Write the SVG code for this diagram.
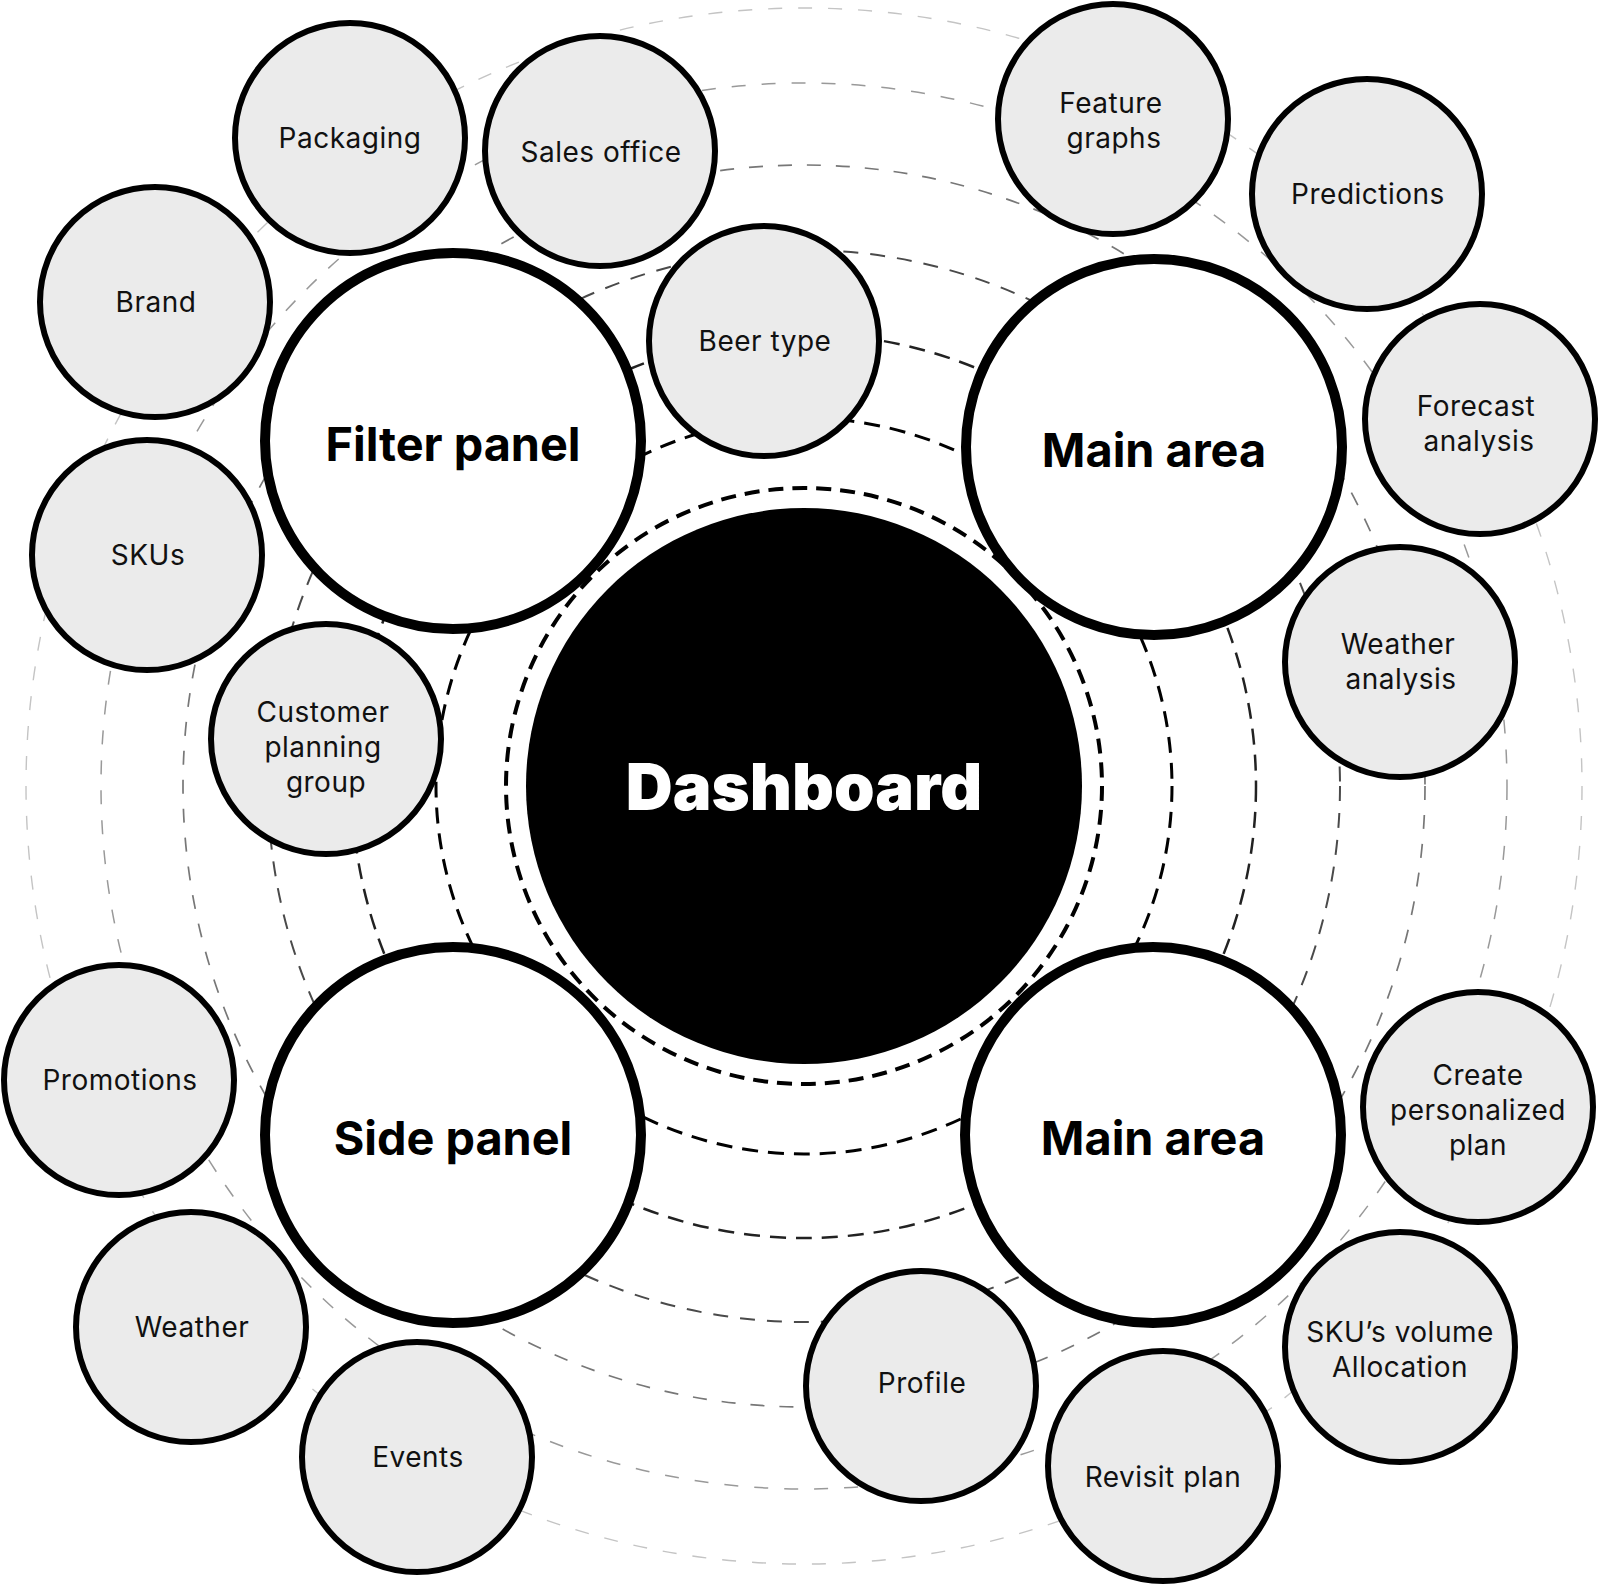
<svg xmlns="http://www.w3.org/2000/svg" width="1600" height="1586" viewBox="0 0 1600 1586">
<style>
.ring{fill:none}
.small circle{fill:#ebebeb;stroke:#000;stroke-width:6}
.big circle{fill:#fff;stroke:#000;stroke-width:10}
.st{font-family:Inter,"Noto Sans","Liberation Sans",sans-serif;font-size:28px;letter-spacing:0.5px;fill:#111;text-anchor:middle}
.bt{font-family:Inter,"Noto Sans","Liberation Sans",sans-serif;font-size:46.8px;font-weight:700;fill:#000;text-anchor:middle}
.dt{font-family:Inter,"Noto Sans","Liberation Sans",sans-serif;font-size:65px;font-weight:900;fill:#fff;text-anchor:middle}
</style>
<rect width="1600" height="1586" fill="#fff"/>
<g id="connectors">
<circle class="ring" cx="804" cy="786" r="778" stroke="#c4c4c4" stroke-width="1.4" stroke-dasharray="14 16"/>
<circle class="ring" cx="804" cy="786" r="703" stroke="#999" stroke-width="1.5" stroke-dasharray="14 16"/>
<circle class="ring" cx="804" cy="786" r="621" stroke="#777" stroke-width="1.7" stroke-dasharray="14 15"/>
<circle class="ring" cx="804" cy="786" r="536" stroke="#4a4a4a" stroke-width="2" stroke-dasharray="15 12"/>
<circle class="ring" cx="804" cy="786" r="452" stroke="#222" stroke-width="2.5" stroke-dasharray="16 10"/>
<circle class="ring" cx="804" cy="786" r="368" stroke="#000" stroke-width="3" stroke-dasharray="16 10"/>
<circle class="ring" cx="804" cy="786" r="298" stroke="#000" stroke-width="4" stroke-dasharray="15 9"/>
</g>
<g id="dashboard">
<circle cx="804" cy="786" r="278" fill="#000"/>
<text class="dt" x="804" y="810">Dashboard</text>
</g>
<g id="filter-panel" class="big">
<circle cx="453" cy="441" r="188"/>
<text class="bt" x="453" y="461">Filter panel</text>
</g>
<g id="main-area-top" class="big">
<circle cx="1154" cy="447" r="188"/>
<text class="bt" x="1154" y="467">Main area</text>
</g>
<g id="side-panel" class="big">
<circle cx="453" cy="1135" r="188"/>
<text class="bt" x="453" y="1155">Side panel</text>
</g>
<g id="main-area-bottom" class="big">
<circle cx="1153" cy="1135" r="188"/>
<text class="bt" x="1153" y="1155">Main area</text>
</g>
<g id="packaging" class="small">
<circle cx="350" cy="138" r="115"/>
<text class="st" x="350" y="148">Packaging</text>
</g>
<g id="sales-office" class="small">
<circle cx="600" cy="151" r="115"/>
<text class="st" x="601" y="162">Sales office</text>
</g>
<g id="brand" class="small">
<circle cx="155" cy="302" r="115"/>
<text class="st" x="156" y="312">Brand</text>
</g>
<g id="skus" class="small">
<circle cx="147" cy="555" r="115"/>
<text class="st" x="148" y="565">SKUs</text>
</g>
<g id="customer-planning-group" class="small">
<circle cx="326" cy="739" r="115"/>
<text class="st" x="323" y="722">Customer</text>
<text class="st" x="323" y="757">planning</text>
<text class="st" x="326" y="792">group</text>
</g>
<g id="beer-type" class="small">
<circle cx="764" cy="341" r="115"/>
<text class="st" x="765" y="351">Beer type</text>
</g>
<g id="feature-graphs" class="small">
<circle cx="1113" cy="119" r="115"/>
<text class="st" x="1111" y="113">Feature</text>
<text class="st" x="1114" y="148">graphs</text>
</g>
<g id="predictions" class="small">
<circle cx="1367" cy="194" r="115"/>
<text class="st" x="1368" y="204">Predictions</text>
</g>
<g id="forecast-analysis" class="small">
<circle cx="1480" cy="419" r="115"/>
<text class="st" x="1476" y="416">Forecast</text>
<text class="st" x="1479" y="451">analysis</text>
</g>
<g id="weather-analysis" class="small">
<circle cx="1400" cy="662" r="115"/>
<text class="st" x="1398" y="654">Weather</text>
<text class="st" x="1401" y="689">analysis</text>
</g>
<g id="create-personalized-plan" class="small">
<circle cx="1478" cy="1107" r="115"/>
<text class="st" x="1478" y="1085">Create</text>
<text class="st" x="1478" y="1120">personalized</text>
<text class="st" x="1478" y="1155">plan</text>
</g>
<g id="sku-volume-allocation" class="small">
<circle cx="1400" cy="1347" r="115"/>
<text class="st" x="1400" y="1342">SKU’s volume</text>
<text class="st" x="1400" y="1377">Allocation</text>
</g>
<g id="revisit-plan" class="small">
<circle cx="1163" cy="1466" r="115"/>
<text class="st" x="1163" y="1487">Revisit plan</text>
</g>
<g id="profile" class="small">
<circle cx="921" cy="1386" r="115"/>
<text class="st" x="922" y="1393">Profile</text>
</g>
<g id="promotions" class="small">
<circle cx="119" cy="1080" r="115"/>
<text class="st" x="120" y="1090">Promotions</text>
</g>
<g id="weather" class="small">
<circle cx="191" cy="1327" r="115"/>
<text class="st" x="192" y="1337">Weather</text>
</g>
<g id="events" class="small">
<circle cx="417" cy="1457" r="115"/>
<text class="st" x="418" y="1467">Events</text>
</g>
</svg>
